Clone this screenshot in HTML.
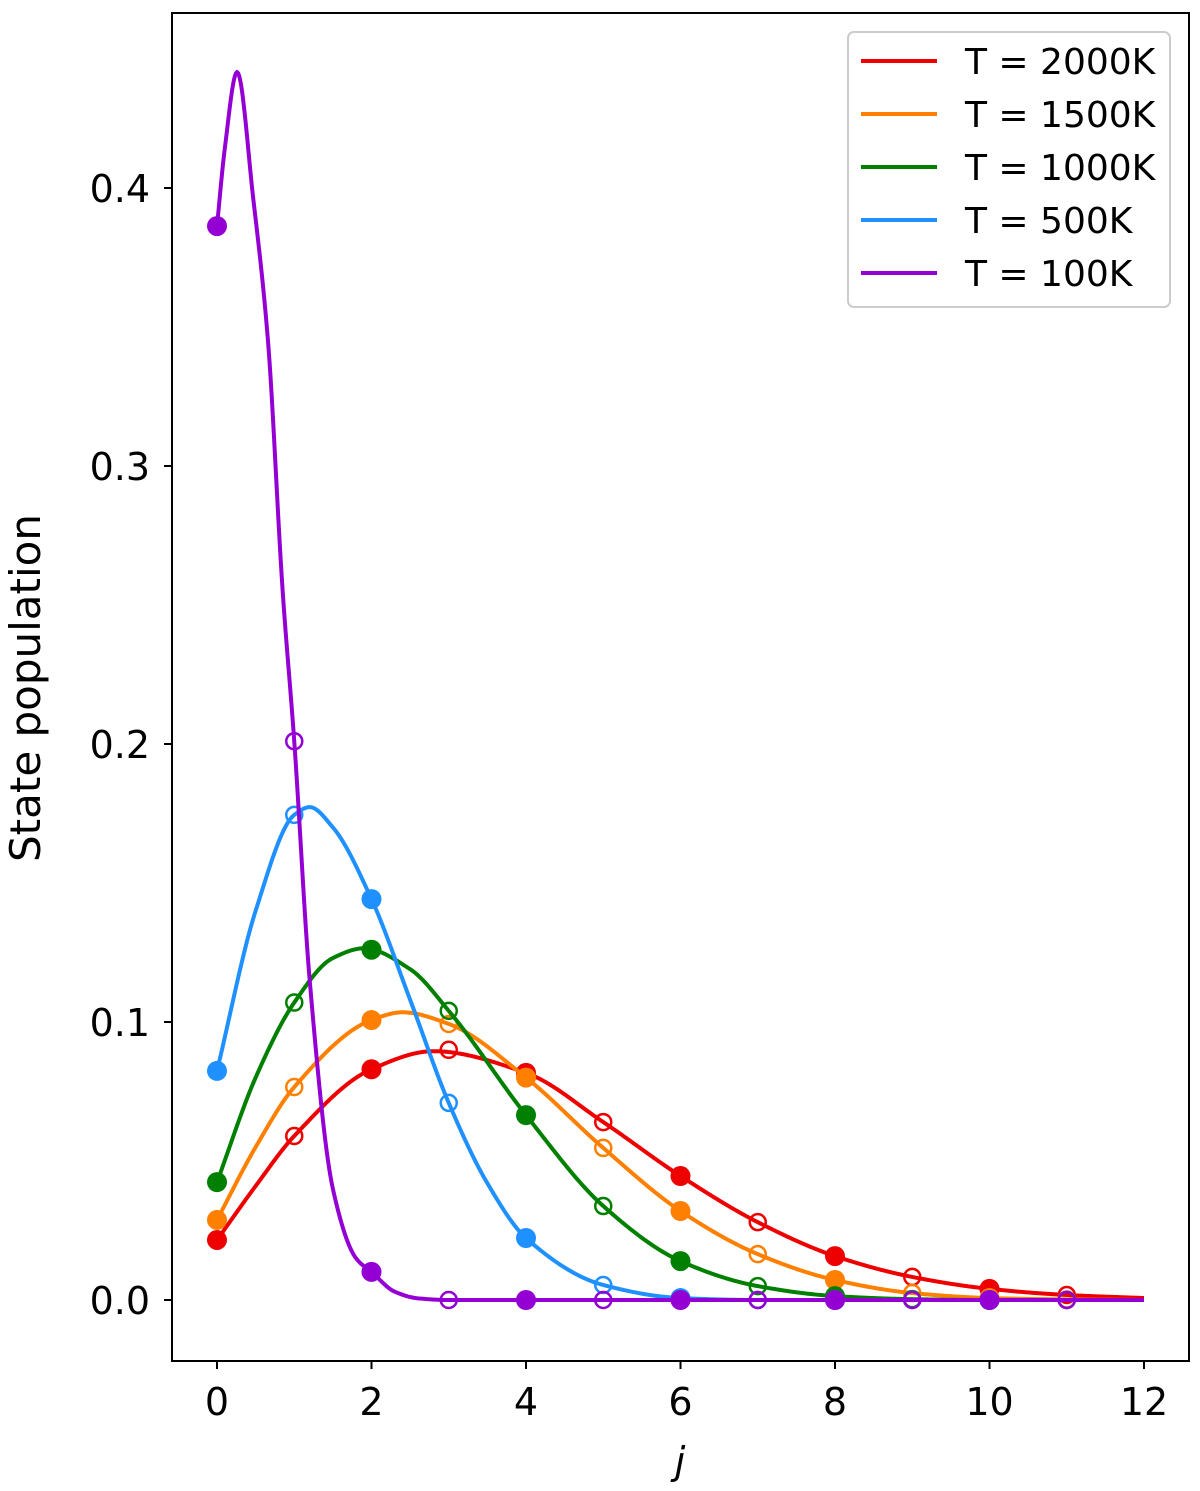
<!DOCTYPE html>
<html><head><meta charset="utf-8"><style>
body{margin:0;background:#fff;}
svg{display:block;font-family:"DejaVu Sans","Liberation Sans",sans-serif;}
</style></head><body>
<svg id="chart" width="1200" height="1491" viewBox="0 0 1200 1491">
<rect x="0" y="0" width="1200" height="1491" fill="#fff"/>
<g id="ticks"></g>
<g id="series"></g>
<rect x="172" y="13" width="1017" height="1348" fill="none" stroke="#000" stroke-width="2"/>
<text x="40" y="688" transform="rotate(-90 40 688)" font-size="42" text-anchor="middle">State population</text>
<text x="680" y="1474" font-size="38" font-style="italic" text-anchor="middle">j</text>
<g id="legend">
<rect x="848" y="32" width="322" height="275" rx="6" fill="#fff" stroke="#ccc" stroke-width="2"/>
</g>
</svg>
<script>
const labels = ["T = 2000K","T = 1500K","T = 1000K","T = 500K","T = 100K"];
const colors = ["#ee0000","#ff8000","#008000","#1e90ff","#9400d3"];
const xTicks = [0,2,4,6,8,10,12];
const yTicks = [0.0,0.1,0.2,0.3,0.4];
const jPoints = [0,1,2,3,4,5,6,7,8,9,10,11];
const red = [0.0216,0.059,0.083,0.090,0.0817,0.064,0.0446,0.028,0.0158,0.0083,0.004,0.0018];
const orange = [0.0288,0.0766,0.1007,0.0993,0.080,0.0547,0.032,0.0165,0.0072,0.0025,0.0007,0.0002];
const green = [0.0424,0.107,0.126,0.104,0.0665,0.0338,0.014,0.005,0.0014,0.0003,0,0];
const blue = [0.0824,0.1745,0.1442,0.0709,0.0223,0.0054,0.0007,0,0,0,0,0];
const purple = [0.3863,0.201,0.0101,0,0,0,0,0,0,0,0,0];
// curve samples
const redCurveJ = [0,0.5,1,2,2.8,4,5,6,7,8,9,10,11,12];
const redCurve = [0.0216,0.041,0.059,0.083,0.0895,0.0817,0.064,0.0446,0.028,0.0158,0.0083,0.004,0.0018,0.0007];
const orangeCurveJ = [0,0.5,1,2,2.4,3,4,5,6,7,8,9,10,11,12];
const orangeCurve = [0.0288,0.055,0.0766,0.1007,0.1035,0.0993,0.080,0.0547,0.032,0.0165,0.0072,0.0025,0.0007,0.0002,0];
const greenCurveJ = [0,0.5,1,1.5,1.9,2.5,3,4,5,6,7,8,9,10,12];
const greenCurve = [0.0424,0.080,0.107,0.123,0.1265,0.119,0.104,0.0665,0.0338,0.014,0.005,0.0014,0.0003,0,0];
const blueCurveJ = [0,0.5,1,1.2,1.5,2,2.5,3,3.5,4,5,6,7,12];
const blueCurve = [0.0824,0.140,0.1745,0.1773,0.170,0.1442,0.108,0.0709,0.042,0.0223,0.0054,0.0007,0,0];
const purpleCurveJ = [0,0.1,0.26,0.47,0.66,0.85,1,1.2,1.5,1.8,2,2.3,2.6,3,12];
const purpleCurve = [0.3863,0.414,0.4417,0.396,0.345,0.255,0.201,0.115,0.040,0.015,0.0101,0.003,0.0006,0,0];

const seriesPts = [red,orange,green,blue,purple];
const curvesJ = [redCurveJ,orangeCurveJ,greenCurveJ,blueCurveJ,purpleCurveJ];
const curves = [redCurve,orangeCurve,greenCurve,blueCurve,purpleCurve];
const names = ["t2000","t1500","t1000","t500","t100"];

const NS="http://www.w3.org/2000/svg";
const X = v => 217 + v*(1144-217)/12;
const Y = v => 1300 - v*2780;
function mk(tag, attrs, parent){const e=document.createElementNS(NS,tag);for(const k in attrs)e.setAttribute(k,attrs[k]);parent.appendChild(e);return e;}
const tg=document.getElementById('ticks'), sg=document.getElementById('series'), lg=document.getElementById('legend');
xTicks.forEach(t=>{
  const l=mk('line',{x1:X(t),x2:X(t),y1:1361,y2:1369,stroke:'#000','stroke-width':2},tg);
  
  
  const tx=mk('text',{x:X(t),y:1415,'font-size':38,'text-anchor':'middle'},tg);tx.textContent=t;
  
  
});
yTicks.forEach(t=>{
  const l=mk('line',{x1:164,x2:172,y1:Y(t),y2:Y(t),stroke:'#000','stroke-width':2},tg);
  
  
  const tx=mk('text',{x:150,y:Y(t)+14,'font-size':38,'text-anchor':'end'},tg);tx.textContent=t.toFixed(1);
  
  
});
// monotone cubic (Fritsch-Carlson) interpolation
function monotonePath(xs,ys){
  const n=xs.length, d=[], m=new Array(n);
  for(let i=0;i<n-1;i++) d.push((ys[i+1]-ys[i])/(xs[i+1]-xs[i]));
  m[0]=d[0]; m[n-1]=d[n-2];
  for(let i=1;i<n-1;i++){
    if(d[i-1]*d[i]<=0) m[i]=0;
    else { const h0=xs[i]-xs[i-1],h1=xs[i+1]-xs[i]; const w1=2*h1+h0,w2=h1+2*h0; m[i]=(w1+w2)/(w1/d[i-1]+w2/d[i]); }
  }
  let s='';
  for(let i=0;i<n-1;i++){
    const h=xs[i+1]-xs[i], steps=Math.max(8,Math.ceil(h*60));
    for(let k=(i===0?0:1);k<=steps;k++){
      const t=k/steps, t2=t*t, t3=t2*t;
      const v=(2*t3-3*t2+1)*ys[i]+(t3-2*t2+t)*h*m[i]+(-2*t3+3*t2)*ys[i+1]+(t3-t2)*h*m[i+1];
      const x=xs[i]+t*h;
      s+=(s?' L':'M')+X(x).toFixed(2)+','+Y(v).toFixed(2);
    }
  }
  return s;
}
for(let s=0;s<5;s++){
  const g=mk('g',{},sg);
  
  
  const p=mk('path',{d:monotonePath(curvesJ[s],curves[s]),fill:'none',stroke:colors[s],'stroke-width':4,'stroke-linejoin':'round'},g);
  
  
  jPoints.forEach((j,i)=>{
    const filled=(j%2===0);
    const c=mk('circle',{cx:X(j),cy:Y(seriesPts[s][i]),r:filled?10:8,fill:filled?colors[s]:'none',stroke:colors[s],'stroke-width':filled?0:2.5},g);
    
    
  });
}
labels.forEach((lab,i)=>{
  const y=61+i*53;
  const l=mk('line',{x1:861,x2:937,y1:y,y2:y,stroke:colors[i],'stroke-width':4},lg);
  
  
  const t=mk('text',{x:965,y:y+13,'font-size':36},lg);t.textContent=lab;
  
  
});
</script>
</body></html>
